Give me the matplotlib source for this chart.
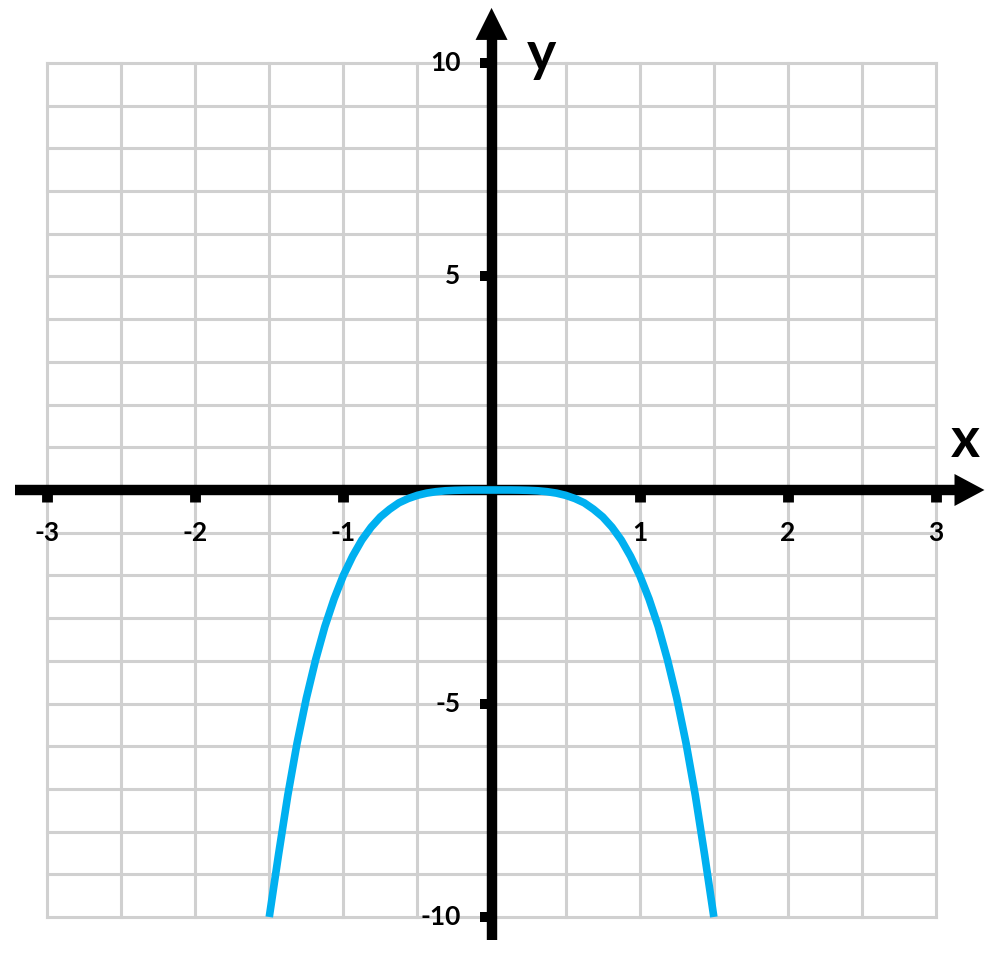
import numpy as np
import matplotlib.pyplot as plt
from matplotlib.patches import Polygon

# curve values
curve_x = [-1.5, -1.4375, -1.375, -1.3125, -1.25, -1.1875, -1.125, -1.0625, -1.0,
           -0.9375, -0.875, -0.8125, -0.75, -0.6875, -0.625, -0.5625, -0.5, -0.4375,
           -0.375, -0.3125, -0.25, -0.1875, -0.125, -0.0625, 0.0,
           0.0625, 0.125, 0.1875, 0.25, 0.3125, 0.375, 0.4375, 0.5, 0.5625, 0.625,
           0.6875, 0.75, 0.8125, 0.875, 0.9375, 1.0, 1.0625, 1.125, 1.1875, 1.25,
           1.3125, 1.375, 1.4375, 1.5]
curve_y = [-10.0, -8.54, -7.15, -5.93, -4.88, -3.98, -3.2, -2.55, -2.0,
           -1.55, -1.17, -0.87, -0.63, -0.45, -0.3, -0.2, -0.125, -0.073,
           -0.04, -0.019, -0.008, -0.0025, 0.0, 0.0, 0.0,
           0.0, 0.0, -0.0025, -0.008, -0.019, -0.04, -0.073, -0.125, -0.2, -0.3,
           -0.45, -0.63, -0.87, -1.17, -1.55, -2.0, -2.55, -3.2, -3.98, -4.88,
           -5.93, -7.15, -8.54, -10.0]

x_ticks = [-3, -2, -1, 1, 2, 3]
y_ticks = [10, 5, -5, -10]

label_font = ['Lato', 'DejaVu Sans']

fig = plt.figure(figsize=(10, 9.58), dpi=100)
ax = fig.add_axes([0, 0, 1, 1])
ax.set_xlim(-3.317, 3.431)
ax.set_ylim(-10.96, 11.475)
ax.axis('off')

grid_col = '#d0d0d0'
for gx in np.arange(-3, 3.01, 0.5):
    ax.plot([gx, gx], [-10, 10], color=grid_col, lw=2.2, zorder=1)
for gy in np.arange(-10, 10.01, 1):
    ax.plot([-3, 3], [gy, gy], color=grid_col, lw=2.2, zorder=1)

# axes with arrow heads
ax.plot([-3.215, 3.15], [0, 0], color='black', lw=7.5, zorder=3, solid_capstyle='butt')
ax.add_patch(Polygon([[3.124, 0.375], [3.326, 0], [3.124, -0.375]], closed=True,
                     facecolor='black', edgecolor='none', zorder=4))
ax.plot([0, 0], [-10.55, 10.6], color='black', lw=7.5, zorder=3, solid_capstyle='butt')
ax.add_patch(Polygon([[-0.108, 10.54], [0, 11.29], [0.108, 10.54]], closed=True,
                     facecolor='black', edgecolor='none', zorder=4))

# small square ticks and their labels
for t in x_ticks:
    ax.plot([t, t], [0, -0.27], color='black', lw=7.8, zorder=3, solid_capstyle='butt')
    ax.text(t, -1.0, str(t), ha='center', va='center', fontsize=19,
            fontweight='bold', family=label_font)
for t in y_ticks:
    ax.plot([-0.08, 0], [t, t], color='black', lw=7.2, zorder=3, solid_capstyle='butt')
    ax.text(-0.21, t, str(t), ha='right', va='center', fontsize=19,
            fontweight='bold', family=label_font)

ax.text(0.34, 10.19, 'y', fontsize=40, fontweight='bold', ha='center', va='center',
        family=label_font)
ax.text(3.2, 1.15, 'x', fontsize=40, fontweight='bold', ha='center', va='center',
        family=label_font)

ax.plot(curve_x, curve_y, color='#00b0f0', lw=5.5, zorder=5,
        solid_joinstyle='round', solid_capstyle='butt')

fig.savefig('out.png', dpi=100)
